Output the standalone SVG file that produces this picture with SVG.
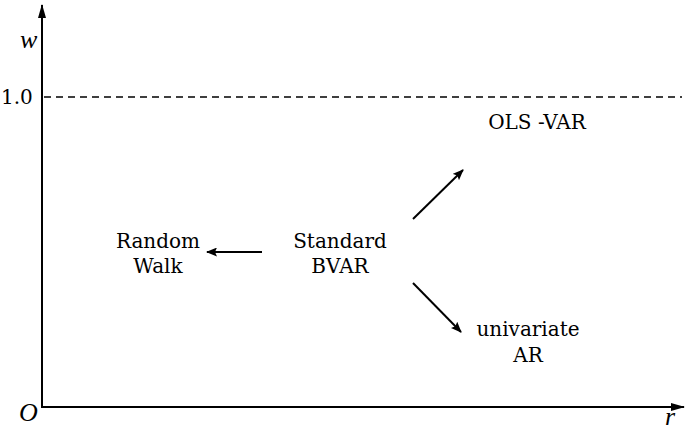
<svg xmlns="http://www.w3.org/2000/svg" width="686" height="438" viewBox="0 0 686 438">
  <style>
    .lbl { font-family: "DejaVu Serif", "Liberation Serif", serif; font-size: 20px; fill: #000; }
    .it { font-family: "Liberation Serif", "DejaVu Serif", serif; font-style: italic; font-size: 26px; fill: #000; }
    .axis { stroke: #000; stroke-width: 2; fill: none; }
    .conn { stroke: #000; stroke-width: 2; fill: none; }
  </style>
  <defs>
    <marker id="head" markerWidth="11" markerHeight="9" refX="10" refY="4.5" orient="auto" markerUnits="userSpaceOnUse">
      <path d="M0,0 L11,4.5 L0,9 L2,4.5 Z" fill="#000"/>
    </marker>
    <marker id="axhead" markerWidth="14" markerHeight="8" refX="13" refY="4" orient="auto" markerUnits="userSpaceOnUse">
      <path d="M0,0 L14,4 L0,8 Z" fill="#000"/>
    </marker>
  </defs>
  <rect width="686" height="438" fill="#fff"/>

  <!-- axes, unit level and axis labels -->
  <g id="axes">
    <line class="axis" x1="42" y1="407" x2="42" y2="5" marker-end="url(#axhead)"/>
    <line class="axis" x1="41" y1="407" x2="684" y2="407" marker-end="url(#axhead)"/>
    <line x1="44" y1="97" x2="682" y2="97" stroke="#000" stroke-width="1.4" stroke-dasharray="7,5"/>
    <text class="it" x="20" y="48">w</text>
    <text class="lbl" x="1" y="104" font-size="21">1.0</text>
    <text class="it" x="19" y="421">O</text>
    <text class="it" x="665" y="425">r</text>
  </g>

  <!-- nodes -->
  <g id="standard-bvar">
    <text class="lbl" x="340" y="248" text-anchor="middle">Standard</text>
    <text class="lbl" x="340" y="273" text-anchor="middle">BVAR</text>
  </g>
  <g id="random-walk">
    <text class="lbl" x="158" y="248" text-anchor="middle">Random</text>
    <text class="lbl" x="158" y="273" text-anchor="middle">Walk</text>
  </g>
  <g id="ols-var">
    <text class="lbl" x="537" y="129" text-anchor="middle">OLS -VAR</text>
  </g>
  <g id="univariate-ar">
    <text class="lbl" x="528" y="336" text-anchor="middle">univariate</text>
    <text class="lbl" x="528" y="362" text-anchor="middle">AR</text>
  </g>

  <!-- connectors -->
  <g id="connectors">
    <line class="conn" x1="262" y1="252" x2="207" y2="252" marker-end="url(#head)"/>
    <line class="conn" x1="413" y1="219" x2="463" y2="170" marker-end="url(#head)"/>
    <line class="conn" x1="413" y1="283" x2="461" y2="332" marker-end="url(#head)"/>
  </g>
</svg>
